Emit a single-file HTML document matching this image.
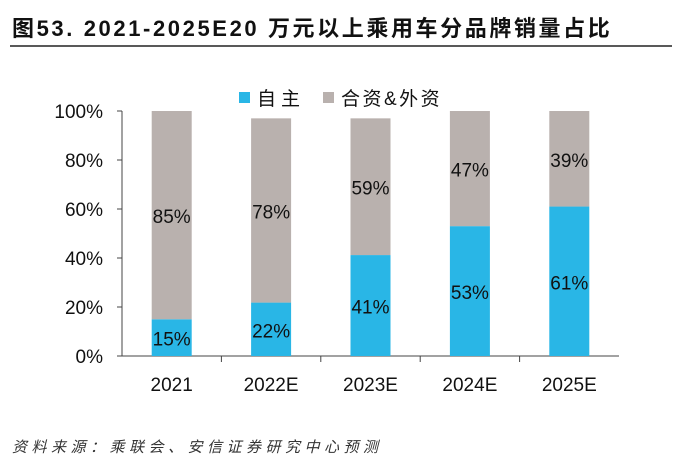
<!DOCTYPE html>
<html><head><meta charset="utf-8"><style>
body{margin:0;background:#fff;width:684px;height:468px;overflow:hidden;font-family:"Liberation Sans","Noto Sans CJK SC",sans-serif}
</style></head><body>
<svg width="684" height="468" xmlns="http://www.w3.org/2000/svg" font-family="Liberation Sans, Noto Sans CJK SC, sans-serif">
<text x="12" y="36" font-size="22" font-weight="bold" letter-spacing="2.6" fill="#111">图53. 2021-2025E20 万元以上乘用车分品牌销量占比</text>
<line x1="10" y1="46" x2="672" y2="46" stroke="#222" stroke-width="1.5"/>
<g id="chart"></g>
<g>
<rect x="239" y="92" width="11" height="11" fill="#29b6e6"/>
<text x="257" y="105" font-size="19" letter-spacing="5" fill="#111">自主</text>
<rect x="323" y="92" width="11" height="11" fill="#b9b1ae"/>
<text x="341" y="105" font-size="19" letter-spacing="2.5" fill="#111">合资&amp;外资</text>
</g>
<text x="12" y="452" font-size="15" font-style="italic" letter-spacing="4.5" fill="#333">资料来源：乘联会、安信证券研究中心预测</text>
<script>
const categories=["2021","2022E","2023E","2024E","2025E"];
const domestic=[15,21.8,41.2,53,61];
const foreign=[85,75.2,55.8,47,39];
const domesticLabels=["15%","22%","41%","53%","61%"];
const foreignLabels=["85%","78%","59%","47%","39%"];
const yTicks=[0,20,40,60,80,100];
const NS="http://www.w3.org/2000/svg";
const g=document.getElementById("chart");
const x0=122,catW=99.4,barW=40,y0=356,yScale=2.45;
const y=v=>y0-v*yScale;
const cx=i=>x0+catW*(i+0.5);
function mk(tag,attrs){const e=document.createElementNS(NS,tag);for(const k in attrs)e.setAttribute(k,attrs[k]);g.appendChild(e);return e;}
let ax=mk("line",{x1:x0,y1:y(100),x2:x0,y2:y0,stroke:"#444"});


let bx=mk("line",{x1:x0,y1:y0,x2:x0+catW*5,y2:y0,stroke:"#444"});


yTicks.forEach(t=>{
 let l=mk("line",{x1:x0-5,y1:y(t),x2:x0,y2:y(t),stroke:"#444"});
 
 
 let tx=mk("text",{x:x0-19,y:y(t)+7,"text-anchor":"end","font-size":"19",fill:"#111"});
 tx.textContent=t+"%";
 
 
});
categories.forEach((c,i)=>{
 if(i>0){let tk=mk("line",{x1:x0+catW*i,y1:y0,x2:x0+catW*i,y2:y0+6,stroke:"#444"});
 
 }
 const bl=cx(i)-barW/2;
 let b1=mk("rect",{x:bl,y:y(domestic[i]),width:barW,height:domestic[i]*yScale,fill:"#29b6e6"});
 
 
 let b2=mk("rect",{x:bl,y:y(domestic[i]+foreign[i]),width:barW,height:foreign[i]*yScale,fill:"#b9b1ae"});
 
 
 let l1=mk("text",{x:cx(i),y:y(domestic[i]/2)+8,"text-anchor":"middle","font-size":"19",fill:"#111"});
 l1.textContent=domesticLabels[i];
 
 
 let l2=mk("text",{x:cx(i),y:y(domestic[i]+foreign[i]/2)+8,"text-anchor":"middle","font-size":"19",fill:"#111"});
 l2.textContent=foreignLabels[i];
 
 
 let cl=mk("text",{x:cx(i),y:391,"text-anchor":"middle","font-size":"19",fill:"#111"});
 cl.textContent=c;
 
 
});
</script>
</svg>
</body></html>
